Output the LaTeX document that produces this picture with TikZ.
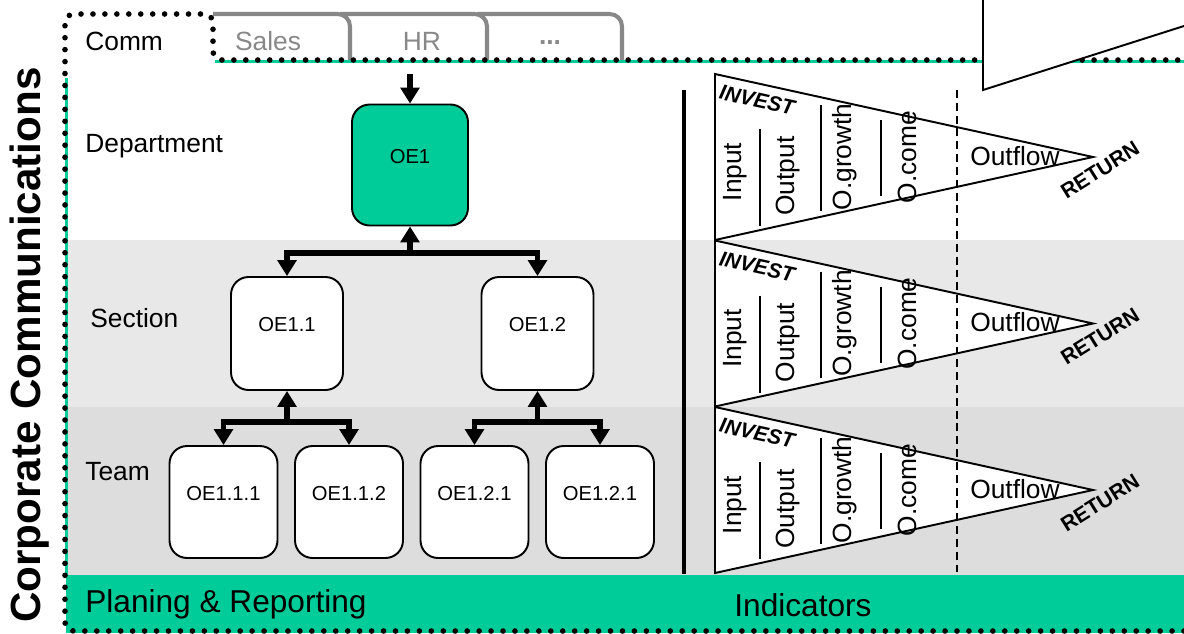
\documentclass[tikz,border=0pt]{standalone}
\usepackage{fontspec}
\setmainfont{Liberation Sans}
\usetikzlibrary{arrows.meta}
\usetikzlibrary{positioning}

\definecolor{oegreen}{RGB}{0,204,153}
\definecolor{tabgray}{RGB}{136,136,136}
\definecolor{sectgray}{RGB}{232,232,232}
\definecolor{teamgray}{RGB}{221,221,221}

\begin{document}
\begin{tikzpicture}[x=0.02cm,y=-0.02cm,
    txt/.style={inner sep=0pt,font=\fontsize{15}{18}\selectfont},
    bigtxt/.style={inner sep=0pt,font=\fontsize{18}{21}\selectfont},
    oebox/.style={draw,line width=1.1pt,rounded corners=10pt,fill=white,inner sep=0pt,
      font=\fontsize{11.5}{14}\selectfont,text depth=10pt},
    link/.style={line width=3pt,-{Triangle[width=10.5pt,length=9pt]}},
    dotline/.style={line width=3.2pt,line cap=round,dash pattern=on 0pt off 6.8pt},
    tabline/.style={tabgray,line width=2.3pt,rounded corners=7pt},
    funnel/.style={draw,fill=white,line width=1.1pt},
    sep/.style={line width=1.1pt}]
  \useasboundingbox (0,0) rectangle (1184,633);
  \fill[white] (0,0) rectangle (1184,633);
  \fill[sectgray] (68,240) rectangle (1184,407);
  \fill[teamgray] (68,407) rectangle (1184,575);
  \fill[oegreen] (66,575) rectangle (1184,633);
  \draw[oegreen,line width=1.7pt] (215,61.5) -- (1184,61.5);
  \draw[oegreen,line width=1.7pt] (66.5,78) -- (66.5,575);

  \draw[tabline] (213,14) -- (350,14) -- (350,60);
  \draw[tabline] (340,14) -- (487,14) -- (487,60);
  \draw[tabline] (477,14) -- (622,14) -- (622,60);
  \draw[dotline,rounded corners=5pt] (1184,631) -- (65,631) -- (65,14) -- (213,14) -- (213,60) -- (1184,60);

  \fill[white] (983,0) -- (983,90) -- (1184,26) -- (1184,0) -- cycle;
  \draw[line width=1.1pt] (983,0) -- (983,90) -- (1184,26);

  \node[rotate=90,inner sep=0pt,font=\fontsize{24}{28}\selectfont\bfseries] (corp) at (30,345) {Corporate Communications};

  \node[txt,anchor=west] (tabcomm) at (85,41) {Comm};
  \node[txt,tabgray] (tabsales) at (268,41) {Sales};
  \node[txt,tabgray] (tabhr) at (422,41) {HR};
  \node[txt,tabgray] (tabmore) at (550,43) {\bfseries ...};

  \node[txt,anchor=west] (dept) at (85,146) {Department};
  \node[txt,anchor=west] (sect) at (90,318) {Section};
  \node[txt,anchor=west] (team) at (85,472) {Team};

  \node[oebox,fill=oegreen,minimum width=2.32cm,minimum height=2.42cm] (oe1) at (410,165) {OE1};
  \node[oebox,minimum width=2.24cm,minimum height=2.26cm] (oe11) at (287,333.5) {OE1.1};
  \node[oebox,minimum width=2.24cm,minimum height=2.26cm] (oe12) at (537.5,333.5) {OE1.2};
  \node[oebox,minimum width=2.16cm,minimum height=2.24cm] (oe111) at (223.5,502) {OE1.1.1};
  \node[oebox,minimum width=2.16cm,minimum height=2.24cm] (oe112) at (349,502) {OE1.1.2};
  \node[oebox,minimum width=2.16cm,minimum height=2.24cm] (oe121) at (474.5,502) {OE1.2.1};
  \node[oebox,minimum width=2.16cm,minimum height=2.24cm] (oe122) at (600,502) {OE1.2.1};

  \coordinate (in) at (410,74);
  \coordinate (j1) at (410,253);
  \coordinate (j2) at (287,422);
  \coordinate (j3) at (537.5,422);
  \draw[link] (in) -- (oe1.north);
  \draw[link] (j1) -- (oe1.south);
  \draw[link] (j1) -| (oe11.north);
  \draw[link] (j1) -| (oe12.north);
  \draw[link] (j2) -- (oe11.south);
  \draw[link] (j2) -| (oe111.north);
  \draw[link] (j2) -| (oe112.north);
  \draw[link] (j3) -- (oe12.south);
  \draw[link] (j3) -| (oe121.north);
  \draw[link] (j3) -| (oe122.north);

  \draw[line width=2.8pt] (684,90) -- (684,574);

  \foreach \dy [count=\i] in {0,166.5,333}{
    \filldraw[funnel] (715,74+\dy) -- (1093,157+\dy) -- (715,240+\dy) -- cycle;
    \node[inner sep=0pt,rotate=-12.5,font=\fontsize{12}{14}\selectfont\bfseries\itshape] (invest\i) at (757,100+\dy) {INVEST};
    \node[inner sep=0pt,rotate=32,font=\fontsize{12}{14}\selectfont\bfseries] (return\i) at (1100,170+\dy) {RETURN};
    \node[txt,rotate=90] (input\i) at (735,172+\dy) {Input};
    \node[txt,rotate=90] (output\i) at (788,176+\dy) {Output};
    \node[txt,rotate=90] (growth\i) at (845,157+\dy) {O.growth};
    \node[txt,rotate=90] (come\i) at (907,157+\dy) {O.come};
    \node[txt] (outflow\i) at (1015,156+\dy) {Outflow};
    \draw[sep] (760,129+\dy) -- (760,226+\dy);
    \draw[sep] (821,105+\dy) -- (821,211+\dy);
    \draw[sep] (881,120+\dy) -- (881,196+\dy);
  }
  \draw[line width=1.1pt,dash pattern=on 4.5pt off 2.8pt] (957,90) -- (957,575);

  \node[bigtxt,anchor=west] (plan) at (85,604) {Planing \& Reporting};
  \node[bigtxt] (indic) at (803,605) {Indicators};
\end{tikzpicture}
\end{document}
